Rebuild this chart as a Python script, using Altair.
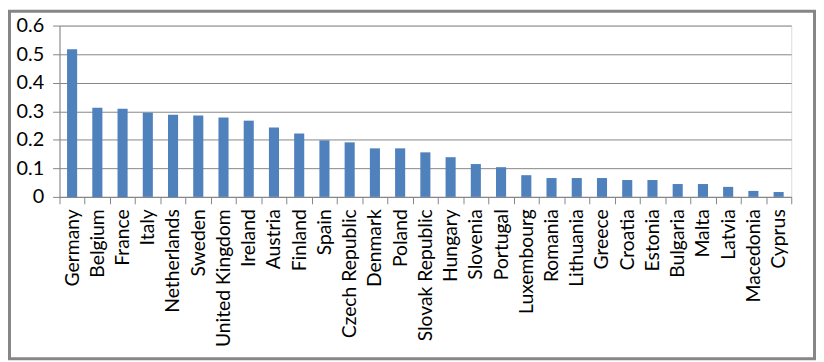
import altair as alt
import pandas as pd

countries = ["Germany", "Belgium", "France", "Italy", "Netherlands", "Sweden",
             "United Kingdom", "Ireland", "Austria", "Finland", "Spain",
             "Czech Republic", "Denmark", "Poland", "Slovak Republic", "Hungary",
             "Slovenia", "Portugal", "Luxembourg", "Romania", "Lithuania",
             "Greece", "Croatia", "Estonia", "Bulgaria", "Malta", "Latvia",
             "Macedonia", "Cyprus"]
values = [0.517, 0.312, 0.309, 0.295, 0.288, 0.285, 0.278, 0.267, 0.243, 0.222,
          0.198, 0.191, 0.170, 0.170, 0.156, 0.139, 0.115, 0.104, 0.076, 0.066,
          0.066, 0.066, 0.059, 0.059, 0.045, 0.045, 0.035, 0.021, 0.017]
y_ticks = [0, 0.1, 0.2, 0.3, 0.4, 0.5, 0.6]

df = pd.DataFrame({"country": countries, "value": values})

GRAY = "#868686"
FONT = "Lato"

bars = alt.Chart(df).mark_bar(color="#4F81BD", width=alt.RelativeBandSize(0.4)).encode(
    x=alt.X("country:N", sort=countries, title=None,
            scale=alt.Scale(paddingInner=0, paddingOuter=0),
            axis=alt.Axis(labelAngle=-90, labelAlign="right", labelBaseline="middle",
                          tickBand="extent", tickSize=7, tickColor=GRAY,
                          domainColor=GRAY, labelPadding=5, labelFontSize=19.5,
                          labelFont=FONT, labelColor="black", grid=False)),
    y=alt.Y("value:Q", title=None,
            scale=alt.Scale(domain=[0, 0.6], nice=False),
            axis=alt.Axis(values=y_ticks, format=".1~f", grid=True, gridColor=GRAY,
                          gridWidth=1, tickSize=7, tickColor=GRAY, domainColor=GRAY,
                          labelPadding=9, labelFontSize=20, labelFont=FONT,
                          labelColor="black")),
)

border = alt.Chart(alt.Data(values=[{}])).mark_rect(
    fill=None, stroke=GRAY, strokeWidth=3
).encode(
    x=alt.value(-50.5), x2=alt.value(762.5),
    y=alt.value(-14.5), y2=alt.value(336.5),
)

chart = alt.layer(bars, border).properties(
    width=739, height=173,
    padding={"left": 52, "top": 16, "right": 25, "bottom": 165},
    autosize=alt.AutoSizeParams(type="none"),
).configure_view(stroke=None).configure(background="white")

chart.save("out.html", embed_options={"renderer": "svg", "actions": False})
